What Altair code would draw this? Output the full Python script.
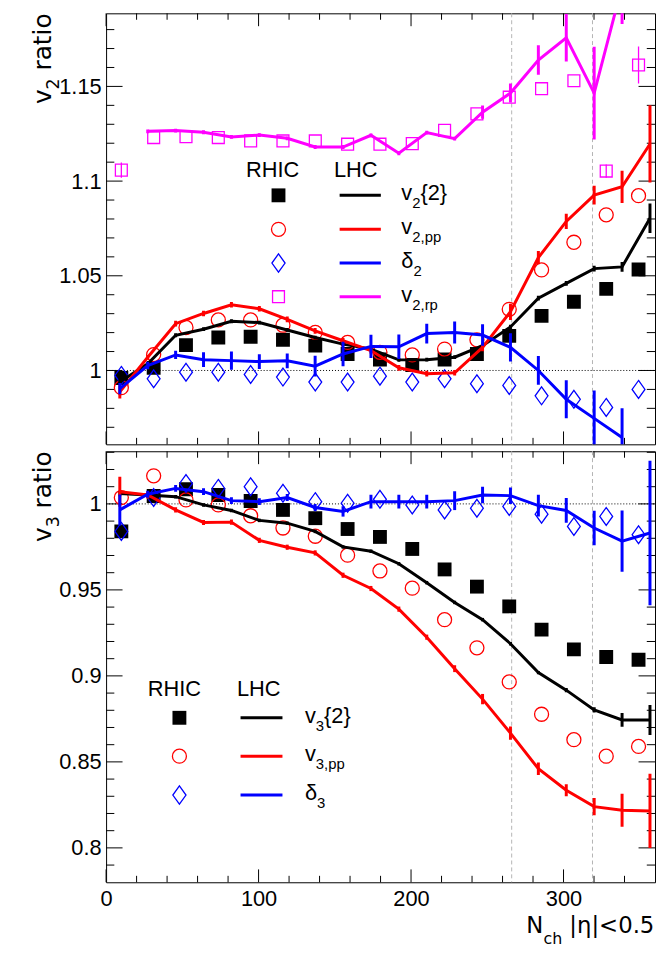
import altair as alt
import pandas as pd

# ---------------- data ----------------
rhic_x = [10, 31.2, 52.4, 73.6, 94.8, 116, 137.2, 158.4, 179.6, 200.8, 222, 243.2,
          264.4, 285.6, 306.8, 328, 349.2]
lhc_x = [9, 27.3, 45.6, 63.9, 82.2, 100.5, 118.8, 137.1, 155.4, 173.7, 192, 210.3,
         228.6, 246.9, 265.2, 283.5, 301.8, 320.1, 338.4, 356.7]

# top panel, RHIC markers
rhic_v2_2 = [0.996, 1.0014, 1.0134, 1.0174, 1.0178, 1.0162, 1.0131, 1.0087, 1.0058, 1.0029,
             1.0058, 1.0087, 1.0183, 1.0288, 1.0363, 1.0431, 1.0533]
rhic_v2pp = [0.9909, 1.0084, 1.0227, 1.0267, 1.0267, 1.0239, 1.0201, 1.0148, 1.0096, 1.0082,
             1.0113, 1.0162, 1.0323, 1.0531, 1.0677, 1.0822, 1.0923]
rhic_d2 = [0.9974, 0.9956, 0.9991, 0.9991, 0.9979, 0.9965, 0.9939, 0.9939, 0.997, 0.9939,
           0.9956, 0.993, 0.9921, 0.9866, 0.9848, 0.9805, 0.990]
rhic_v2rp = [1.1058, 1.1230, 1.1235, 1.1230, 1.1212, 1.1212, 1.1212, 1.1195, 1.1195, 1.1198,
             1.1268, 1.1355, 1.1443, 1.1488, 1.1530, 1.1053, 1.1613]
rhic_v2rp_err = [0.004, 0, 0, 0, 0, 0, 0, 0, 0, 0, 0, 0, 0, 0, 0, 0.0035, 0.0098]

# top panel, LHC lines
lhc_v2_2 = [0.9939, 1.0035, 1.0186, 1.0218, 1.026, 1.0253, 1.0214, 1.0174, 1.0139, 1.0113,
            1.0056, 1.0057, 1.007, 1.0131, 1.0230, 1.0382, 1.046, 1.0538, 1.0547, 1.0804]
lhc_v2_2_err = [0.0015, 0.001, 0.001, 0.001, 0.001, 0.001, 0.001, 0.001, 0.001, 0.001,
                0.001, 0.001, 0.001, 0.001, 0.0012, 0.0012, 0.0012, 0.0015, 0.0026, 0.0078]
lhc_v2pp = [0.9887, 1.007, 1.0247, 1.0301, 1.0347, 1.0326, 1.027, 1.0209, 1.0157, 1.0105,
            1.0014, 0.9983, 0.9988, 1.0122, 1.0310, 1.0596, 1.0787, 1.0926, 1.097, 1.1196]
lhc_v2pp_err = [0.0035, 0.0012, 0.0015, 0.0015, 0.0015, 0.0015, 0.0015, 0.0015, 0.0015, 0.0015,
                0.0015, 0.0015, 0.0015, 0.002, 0.0043, 0.0035, 0.004, 0.005, 0.0085, 0.0204]
lhc_d2 = [0.9904, 1.0026, 1.0082, 1.0057, 1.0052, 1.0047, 1.0051, 1.0023, 1.0087, 1.0127,
          1.0125, 1.0195, 1.02, 1.0187, 1.0122, 1.0, 0.9848, 0.9747, 0.9646]
lhc_d2_err = [0.003, 0.002, 0.0022, 0.0039, 0.0048, 0.0039, 0.0039, 0.0055, 0.0065, 0.0061,
              0.0065, 0.0052, 0.0058, 0.0057, 0.0074, 0.0076, 0.01, 0.0147, 0.0155]
lhc_v2rp = [1.1263, 1.1267, 1.1258, 1.1233, 1.1243, 1.1226, 1.118, 1.118, 1.1242, 1.1147,
            1.1256, 1.1224, 1.1364, 1.1465, 1.1639, 1.1757, 1.1465, 1.203]
lhc_v2rp_err = [0.001, 0.001, 0.001, 0.001, 0.001, 0.001, 0.001, 0.001, 0.001, 0.001,
                0.001, 0.001, 0.0035, 0.005, 0.0078, 0.0126, 0.0245, 0.02]

# bottom panel, RHIC markers
rhic_v3_2 = [0.984, 1.0046, 1.0085, 1.0052, 1.0017, 0.9965, 0.9917, 0.9854, 0.9808, 0.9738,
             0.9619, 0.9519, 0.9404, 0.9269, 0.9154, 0.911, 0.9094]
rhic_v3pp = [1.0037, 1.0163, 1.0023, 0.9994, 0.9931, 0.986, 0.9812, 0.9702, 0.961, 0.951,
             0.9327, 0.9163, 0.8965, 0.8777, 0.8629, 0.8533, 0.859]
rhic_d3 = [0.984, 1.0037, 1.0119, 1.009, 1.01, 1.0062, 1.0013, 1.0004, 1.0027, 0.9994,
           0.9965, 0.9975, 0.9985, 0.994, 0.9869, 0.9927, 0.9821]

# bottom panel, LHC lines
lhc_v3_2 = [1.006, 1.0052, 1.0042, 0.9994, 0.9962, 0.9904, 0.9888, 0.984, 0.975, 0.9725,
            0.9652, 0.9542, 0.9427, 0.9327, 0.9187, 0.9019, 0.8917, 0.8802, 0.8744, 0.8744]
lhc_v3_2_err = [0.0015, 0.001, 0.001, 0.001, 0.001, 0.001, 0.001, 0.001, 0.001, 0.001,
                0.001, 0.001, 0.001, 0.001, 0.001, 0.001, 0.0012, 0.0015, 0.004, 0.0087]
lhc_v3pp = [1.0071, 1.0052, 0.9965, 0.9892, 0.9894, 0.9788, 0.9748, 0.9715, 0.9585, 0.9508,
            0.9388, 0.9225, 0.9042, 0.8865, 0.8667, 0.846, 0.8335, 0.824, 0.8219, 0.8215]
lhc_v3pp_err = [0.0087, 0.002, 0.0015, 0.0015, 0.0015, 0.0015, 0.0015, 0.0015, 0.0015, 0.0015,
                0.0015, 0.0015, 0.002, 0.003, 0.0038, 0.0036, 0.0035, 0.005, 0.0096, 0.0216]
lhc_d3 = [0.9965, 1.0056, 1.009, 1.0071, 1.0019, 1.0013, 1.0037, 0.9979, 0.9956, 1.0013,
          1.0013, 1.0013, 1.0019, 1.0052, 1.0048, 0.999, 0.9962, 0.986, 0.9783, 0.9831]
lhc_d3_err = [0.009, 0.002, 0.002, 0.002, 0.002, 0.002, 0.002, 0.002, 0.003, 0.004,
              0.004, 0.004, 0.0055, 0.0048, 0.0048, 0.0063, 0.0072, 0.01, 0.0178, 0.042]

# axes / ticks
x_domain = [0, 360]
y1_domain = [0.961, 1.1886]
y2_domain = [0.78, 1.0306]
x_major = [0, 100, 200, 300]
x_minor = [20, 40, 60, 80, 120, 140, 160, 180, 220, 240, 260, 280, 320, 340]
y1_major = [1.0, 1.05, 1.1, 1.15]
y1_minor = [0.97, 0.98, 0.99, 1.01, 1.02, 1.03, 1.04, 1.06, 1.07, 1.08, 1.09,
            1.11, 1.12, 1.13, 1.14, 1.16, 1.17, 1.18]
y2_major = [0.8, 0.85, 0.9, 0.95, 1.0]
y2_minor = [0.79, 0.81, 0.82, 0.83, 0.84, 0.86, 0.87, 0.88, 0.89, 0.91, 0.92, 0.93, 0.94,
            0.96, 0.97, 0.98, 0.99, 1.01, 1.02, 1.03]
dashed_x = [266, 319]

# ---------------- styling ----------------
FONT = "Liberation Sans"
TFONT = "DejaVu Sans"
W, H = 554, 435
BLACK, RED, BLUE, MAG = "#000000", "#ff0000", "#0000ff", "#ff00ff"
DIAMOND = "M0,-1L0.72,0L0,1L-0.72,0Z"
DUMMY = pd.DataFrame({"d": [0]})

xs = alt.Scale(domain=x_domain, nice=False, zero=False)


def txt(s, x, y, size, align="left", baseline="alphabetic", angle=0, color="black", font=FONT):
    kw = dict(text=s, font=font, fontSize=size, align=align, baseline=baseline, color=color)
    if angle:
        kw["angle"] = angle
    return alt.Chart(DUMMY).mark_text(**kw).encode(x=alt.value(x), y=alt.value(y))


def panel(ydom, ymaj, ymin, xaxis, series_lines, markers, legend, ylabel_sub):
    ys = alt.Scale(domain=ydom, nice=False, zero=False)
    yaxis = alt.Axis(values=ymaj, format="~g", labelFont=FONT, labelFontSize=22,
                     labelPadding=5, ticks=False, tickSize=0, domain=False, grid=False,
                     title=None, labelColor="black", labelFlush=False, labelOverlap=False)

    def X(f):
        return alt.X(f, type="quantitative", scale=xs, axis=xaxis)

    def Y(f):
        return alt.Y(f, type="quantitative", scale=ys, axis=yaxis)

    layers = []
    # invisible anchor fixing the left extent
    layers.append(alt.Chart(DUMMY).mark_rule(color="white", strokeWidth=1).encode(
        x=alt.value(-98), x2=alt.value(-97), y=alt.value(0)))
    # dashed verticals, dotted line at 1
    layers.append(alt.Chart(pd.DataFrame({"x": dashed_x})).mark_rule(
        color="#b4b4b4", strokeWidth=1, strokeDash=[4, 3]).encode(
        x=X("x"), y=alt.value(0), y2=alt.value(H)))
    layers.append(alt.Chart(pd.DataFrame({"y": [1.0]})).mark_rule(
        color="black", strokeWidth=1, strokeDash=[1, 2]).encode(
        y=Y("y"), x=alt.value(0), x2=alt.value(W)))
    # ticks
    for vals, ln in ((x_major, 13), (x_minor, 6.5)):
        d = pd.DataFrame({"x": vals})
        layers.append(alt.Chart(d).mark_rule(color="black", strokeWidth=1).encode(
            x=X("x"), y=alt.value(H), y2=alt.value(H - ln)))
        layers.append(alt.Chart(d).mark_rule(color="black", strokeWidth=1).encode(
            x=X("x"), y=alt.value(0), y2=alt.value(ln)))
    for vals, ln in ((ymaj, 16.6), (ymin, 8.3)):
        d = pd.DataFrame({"y": vals})
        layers.append(alt.Chart(d).mark_rule(color="black", strokeWidth=1).encode(
            y=Y("y"), x=alt.value(0), x2=alt.value(ln)))
        layers.append(alt.Chart(d).mark_rule(color="black", strokeWidth=1).encode(
            y=Y("y"), x=alt.value(W - ln), x2=alt.value(W)))
    # RHIC markers
    for xv, yv, err, shape, filled, size, color in markers:
        d = pd.DataFrame({"x": xv, "y": yv, "e": err})
        d["lo"] = d["y"] - d["e"]
        d["hi"] = d["y"] + d["e"]
        de = d[d["e"] > 0]
        if len(de):
            layers.append(alt.Chart(de).mark_rule(color=color, strokeWidth=1.3, clip=True).encode(
                x=X("x"), y=Y("lo"), y2="hi"))
        layers.append(alt.Chart(d).mark_point(
            shape=shape, filled=filled, size=size, color=color, strokeWidth=1.3,
            opacity=1, clip=True).encode(x=X("x"), y=Y("y")))
    # LHC lines with error bars
    for xv, yv, err, color in series_lines:
        d = pd.DataFrame({"x": xv, "y": yv, "e": err})
        d["lo"] = d["y"] - d["e"]
        d["hi"] = d["y"] + d["e"]
        layers.append(alt.Chart(d).mark_line(color=color, strokeWidth=3, clip=True).encode(
            x=X("x"), y=Y("y")))
        layers.append(alt.Chart(d).mark_rule(color=color, strokeWidth=3, clip=True).encode(
            x=X("x"), y=Y("lo"), y2="hi"))
    # y title  v_n ratio (rotated)
    layers.append(txt("v", -56, 91.6, 25, angle=270, font=TFONT))
    layers.append(txt(ylabel_sub, -48, 76.8, 17.5, angle=270, font=TFONT))
    layers.append(txt("ratio", -56, 57.7, 25, angle=270, font=TFONT))
    layers.extend(legend)
    return alt.layer(*layers).properties(width=W, height=H)


def legend_block(hx_rhic, hx_lhc, hy, sym_x, lx1, lx2, tx, rows):
    out = [txt("RHIC", hx_rhic, hy, 22, align="center", baseline="middle"),
           txt("LHC", hx_lhc, hy, 22, align="center", baseline="middle")]
    for r, shape, filled, size, color, main, sub, extra in rows:
        out.append(alt.Chart(DUMMY).mark_point(shape=shape, filled=filled, size=size,
                                               color=color, strokeWidth=1.3, opacity=1).encode(
            x=alt.value(sym_x), y=alt.value(r)))
        out.append(alt.Chart(DUMMY).mark_rule(color=color, strokeWidth=3).encode(
            x=alt.value(lx1), x2=alt.value(lx2), y=alt.value(r)))
        mw = 11 if main == "v" else 12.2
        out.append(txt(main, tx, r + 5, 22))
        out.append(txt(sub, tx + mw, r + 13, 15))
        if extra:
            out.append(txt(extra, tx + mw + 8.3, r + 5, 22))
    return out


top_legend = legend_block(168, 252, 158, 174, 235.7, 277.3, 298, [
    (183.7, "square", True, 196, BLACK, "v", "2", "{2}"),
    (218, "circle", False, 200, RED, "v", "2,pp", None),
    (252, DIAMOND, False, 340, BLUE, "δ", "2", None),
    (286, "square", False, 144, MAG, "v", "2,rp", None),
])
bot_legend = legend_block(69, 154, 240, 74, 135.7, 178, 200.7, [
    (269, "square", True, 196, BLACK, "v", "3", "{2}"),
    (307.7, "circle", False, 200, RED, "v", "3,pp", None),
    (347, DIAMOND, False, 340, BLUE, "δ", "3", None),
])

top = panel(
    y1_domain, y1_major, y1_minor, None,
    [(lhc_x, lhc_v2_2, lhc_v2_2_err, BLACK),
     (lhc_x, lhc_v2pp, lhc_v2pp_err, RED),
     (lhc_x[:19], lhc_d2, lhc_d2_err, BLUE),
     (lhc_x[1:19], lhc_v2rp, lhc_v2rp_err, MAG)],
    [(rhic_x, rhic_v2_2, [0] * 17, "square", True, 196, BLACK),
     (rhic_x, rhic_v2pp, [0] * 17, "circle", False, 200, RED),
     (rhic_x, rhic_d2, [0] * 17, DIAMOND, False, 324, BLUE),
     (rhic_x, rhic_v2rp, rhic_v2rp_err, "square", False, 144, MAG)],
    top_legend, "2")

xaxis_bottom = alt.Axis(values=x_major, format="d", labelFont=FONT, labelFontSize=22,
                        labelPadding=6, ticks=False, tickSize=0, domain=False, grid=False,
                        title=None, labelColor="black", labelFlush=False, labelOverlap=False)

bottom_layers_extra = [
    txt("N", 424, 486, 23, font=TFONT),
    txt("ch", 441.5, 497, 16, font=TFONT),
    txt("|η|<0.5", 467.5, 486, 23, font=TFONT),
]

bottom = panel(
    y2_domain, y2_major, y2_minor, xaxis_bottom,
    [(lhc_x, lhc_v3_2, lhc_v3_2_err, BLACK),
     (lhc_x, lhc_v3pp, lhc_v3pp_err, RED),
     (lhc_x, lhc_d3, lhc_d3_err, BLUE)],
    [(rhic_x, rhic_v3_2, [0] * 17, "square", True, 196, BLACK),
     (rhic_x, rhic_v3pp, [0] * 17, "circle", False, 200, RED),
     (rhic_x, rhic_d3, [0] * 17, DIAMOND, False, 324, BLUE)],
    bot_legend + bottom_layers_extra, "3")

chart = alt.vconcat(top, bottom, spacing=5).properties(
    padding={"left": 0, "top": 0, "right": 0, "bottom": 0},
    background="white",
).configure_view(stroke="black", strokeWidth=1)

chart.save("out.html", embed_options={"renderer": "svg", "actions": False})
